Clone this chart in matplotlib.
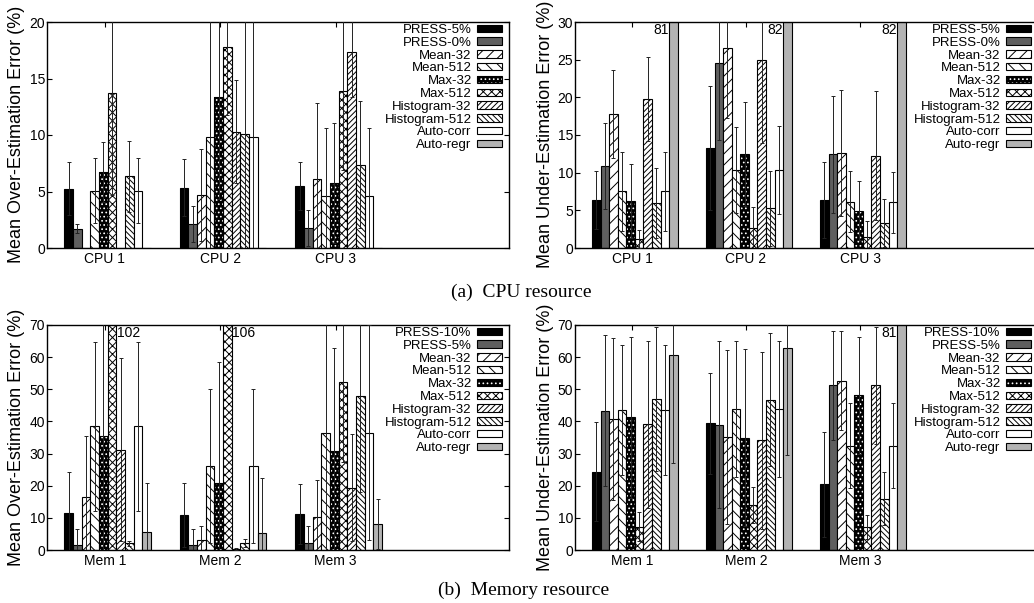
import matplotlib
matplotlib.use('Agg')
import matplotlib.pyplot as plt
from matplotlib.patches import Patch
from matplotlib.transforms import blended_transform_factory
import numpy as np

plt.rcParams['font.family'] = ['Liberation Sans', 'DejaVu Sans']
plt.rcParams['hatch.linewidth'] = 0.7

# ---------------- data ----------------
groups_cpu = ['CPU 1', 'CPU 2', 'CPU 3']
groups_mem = ['Mem 1', 'Mem 2', 'Mem 3']
methods_cpu = ['PRESS-5%', 'PRESS-0%', 'Mean-32', 'Mean-512', 'Max-32', 'Max-512',
               'Histogram-32', 'Histogram-512', 'Auto-corr', 'Auto-regr']
methods_mem = ['PRESS-10%', 'PRESS-5%', 'Mean-32', 'Mean-512', 'Max-32', 'Max-512',
               'Histogram-32', 'Histogram-512', 'Auto-corr', 'Auto-regr']

# rows = methods, columns = groups
cpu_over_val = [[5.24, 5.33, 5.5], [1.69, 2.16, 1.78], [0, 4.67, 6.1], [5.06, 9.85, 4.64],
                [6.7, 13.34, 5.77], [13.7, 17.78, 13.93], [0, 10.3, 17.34], [6.36, 10.06, 7.37],
                [5.06, 9.85, 4.64], [0, 0, 0]]
cpu_over_err = [[2.33, 2.54, 2.1], [0.4, 1.6, 1.56], [0, 4.06, 6.77], [2.87, 11, 5.98],
                [2.65, 9, 5.3], [9, 6, 7], [0, 4.58, 4], [3.14, 11, 5.63],
                [2.87, 11, 5.98], [0, 0, 0]]

cpu_under_val = [[6.37, 13.3, 6.37], [10.93, 24.5, 12.43], [17.74, 26.5, 12.6], [7.52, 10.3, 6.15],
                 [6.24, 12.48, 4.96], [1.19, 2.6, 1.46], [19.8, 24.96, 12.26], [5.97, 5.3, 3.27],
                 [7.52, 10.3, 6.08], [81, 82, 82]]
cpu_under_err = [[3.81, 8.2, 5.1], [5.7, 10.1, 7.8], [5.85, 9.2, 8.4], [5.2, 5.7, 4.05],
                 [4.96, 6.9, 3.95], [1.16, 2.8, 2.15], [5.6, 11.06, 8.55], [4.69, 4.97, 3.2],
                 [5.2, 5.85, 4.05], [0, 0, 0]]

mem_over_val = [[11.4, 11.0, 11.1], [1.56, 1.56, 2.3], [16.5, 3.1, 10.4], [38.5, 26.1, 36.5],
                [35.4, 20.7, 30.9], [102, 106, 52.3], [31.2, 0.4, 19.4], [2.07, 2.2, 47.9],
                [38.5, 26.1, 36.5], [5.6, 5.4, 8.1]]
mem_over_err = [[12.8, 10, 9.3], [4.84, 5.04, 5.3], [19.1, 4.5, 11.5], [26.3, 23.9, 40],
                [40, 37.7, 31.8], [0, 0, 25], [28.4, 0.3, 16.7], [0.8, 1.2, 30],
                [26.3, 23.9, 33.4], [15.1, 16.9, 7.8]]

mem_under_val = [[24.4, 39.4, 20.4], [43.4, 39.0, 51.2], [40.9, 35.1, 52.7], [43.6, 43.8, 32.5],
                 [41.3, 34.9, 48.1], [7.3, 13.9, 7.2], [39.1, 34.1, 51.2], [46.9, 46.7, 16.0],
                 [43.6, 43.8, 32.5], [60.8, 62.8, 81]]
mem_under_err = [[15.5, 15.6, 16.2], [23.6, 26, 17], [25.2, 27, 15.5], [20.3, 21.1, 13.1],
                 [25.1, 27.5, 18.3], [4.6, 5.6, 3.7], [26, 27.5, 18.3], [22.4, 20.7, 8.3],
                 [20.3, 21.1, 13.1], [33.8, 33.2, 0]]

# ---------------- styles ----------------
# (face, hatch, hatch_color)
styles = [
    ('black', None, None),
    ('#5f5f5f', None, None),
    ('white', '///', 'black'),
    ('white', '\\\\\\', 'black'),
    ('black', '....', 'white'),
    ('white', 'xxxx', 'black'),
    ('white', '//////', 'black'),
    ('white', '\\\\\\\\\\\\', 'black'),
    ('white', None, None),
    ('#b3b3b3', None, None),
]

BW = 0.075
EDGE_LW = 0.8


def draw_bars(ax, xs, h, st, z=2):
    face, hatch, hc = st
    if hatch is not None and hc == 'white':
        ax.bar(xs, h, width=BW, align='edge', facecolor=face, edgecolor='white',
               hatch=hatch, linewidth=0, zorder=z)
        ax.bar(xs, h, width=BW, align='edge', fill=False, edgecolor='black',
               linewidth=EDGE_LW, zorder=z + 0.1)
    else:
        ax.bar(xs, h, width=BW, align='edge', facecolor=face, edgecolor='black',
               hatch=hatch, linewidth=EDGE_LW, zorder=z)


def legend_handle(st):
    face, hatch, hc = st
    if hatch is not None and hc == 'white':
        return (Patch(facecolor=face, edgecolor='white', hatch=hatch, linewidth=0),
                Patch(fill=False, edgecolor='black', linewidth=EDGE_LW))
    return Patch(facecolor=face, edgecolor='black', hatch=hatch, linewidth=EDGE_LW)


def panel(ax, groups, methods, vals, errs, ymax, ystep, legend_x, xmax):
    x0 = np.arange(len(groups))
    trans = blended_transform_factory(ax.transData, ax.transAxes)
    for j, m in enumerate(methods):
        left = x0 - 0.35 + j * BW
        draw_bars(ax, left, vals[j], styles[j])
        for k in range(len(groups)):
            v, e = vals[j][k], errs[j][k]
            xc = left[k] + BW / 2
            if v > 0 and v <= ymax and e > 0:
                ax.errorbar([xc], [v], yerr=[e], fmt='none', ecolor='#222222',
                            elinewidth=0.7, capsize=1.6, capthick=0.7, zorder=4)
            if v > ymax:
                if j == len(methods) - 1:
                    ax.text(left[k] - 0.004, 1 - 8 / 226, f'{v:g}', transform=trans,
                            ha='right', va='center', fontsize=10, zorder=5)
                else:
                    ax.text(left[k] + BW + 0.004, 1 - 8 / 226, f'{v:g}', transform=trans,
                            ha='left', va='center', fontsize=10, zorder=5)
    ax.set_xlim(-0.5, xmax)
    ax.set_ylim(0, ymax)
    ax.set_yticks(np.arange(0, ymax + 0.01, ystep))
    ax.set_xticks(x0)
    ax.set_xticklabels(groups)
    ax.tick_params(axis='both', direction='in', top=True, right=True, length=3.5,
                   width=0.8, labelsize=10)
    ax.tick_params(axis='x', pad=3)
    ax.tick_params(axis='y', pad=1.5)
    for s in ax.spines.values():
        s.set_linewidth(1.0)
    handles = [legend_handle(st) for st in styles]
    ax.legend(handles, methods, loc='upper right',
              bbox_to_anchor=(legend_x, 1 - 2 / 226), frameon=False,
              markerfirst=False, fontsize=9.5, handlelength=1.9, handleheight=0.5,
              handletextpad=0.4, labelspacing=0.06, borderpad=0, borderaxespad=0)


W, H = 1034, 603
fig = plt.figure(figsize=(W / 100, H / 100), dpi=100)


def add_axes(x0, y0, x1, y1):
    return fig.add_axes([x0 / W, 1 - y1 / H, (x1 - x0) / W, (y1 - y0) / H])


ax1 = add_axes(47, 22, 509, 248)
ax2 = add_axes(575, 22, 1041, 248)
ax3 = add_axes(47, 325, 509, 550)
ax4 = add_axes(575, 325, 1041, 550)

panel(ax1, groups_cpu, methods_cpu, cpu_over_val, cpu_over_err, 20, 5,
      1 - 7 / 462, 3.5)
panel(ax2, groups_cpu, methods_cpu, cpu_under_val, cpu_under_err, 30, 5,
      (1031 - 575) / 466, -0.5 + 466 / 114)
panel(ax3, groups_mem, methods_mem, mem_over_val, mem_over_err, 70, 10,
      1 - 7 / 462, 3.5)
panel(ax4, groups_mem, methods_mem, mem_under_val, mem_under_err, 70, 10,
      (1031 - 575) / 466, -0.5 + 466 / 114)

fig.text(17 / W, 1 - 134 / H, 'Mean Over-Estimation Error (%)', rotation=90,
         ha='center', va='center', fontsize=13)
fig.text(545 / W, 1 - 134 / H, 'Mean Under-Estimation Error (%)', rotation=90,
         ha='center', va='center', fontsize=13)
fig.text(17 / W, 1 - 437 / H, 'Mean Over-Estimation Error (%)', rotation=90,
         ha='center', va='center', fontsize=13)
fig.text(545 / W, 1 - 437 / H, 'Mean Under-Estimation Error (%)', rotation=90,
         ha='center', va='center', fontsize=13)

fig.text(521 / W, 1 - 292 / H, '(a)  CPU resource', ha='center', va='center',
         fontsize=14, family=['Liberation Serif', 'DejaVu Serif'])
fig.text(524 / W, 1 - 590 / H, '(b)  Memory resource', ha='center', va='center',
         fontsize=14, family=['Liberation Serif', 'DejaVu Serif'])

fig.savefig('out.png', dpi=100)
